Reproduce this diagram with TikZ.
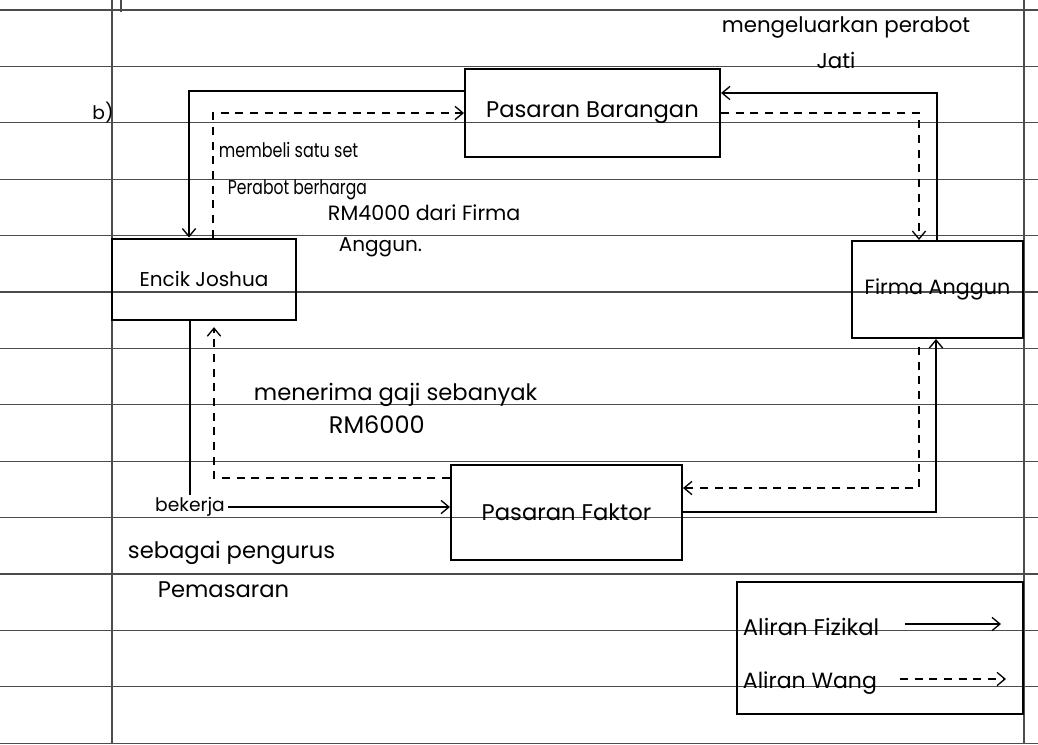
\documentclass[tikz,border=0pt]{standalone}
\usepackage{fontspec}
\setmainfont{Poppins}
\usetikzlibrary{arrows.meta,calc}
\newcommand\lblfs[1]{\fontsize{#1}{#1}\selectfont}
\begin{document}
\begin{tikzpicture}[x=0.75pt,y=-0.75pt,
  rule/.style={line width=0.9pt,black!70},
  box/.style={draw,line width=1.5pt,inner sep=0pt,align=center},
  tipV/.style={-{Straight Barb[length=6pt,width=10pt,line width=1pt]}},
  flow/.style={line width=1pt,tipV},
  money/.style={line width=1pt,dash pattern=on 6pt off 5pt,tipV},
  lbl/.style={inner sep=2pt}]
\useasboundingbox (0,0) rectangle (1038,744);
% ruled paper
\foreach \k in {0,...,13} \draw[rule] (0,{10+56.4*\k}) -- (1038,{10+56.4*\k});
\draw[rule] (112,0) -- (112,744);
\draw[rule] (1024,0) -- (1024,744);
\draw[rule] (121,0) -- (121,12);
% boxes
\node[box,minimum width=191.25pt,minimum height=66pt,font={\lblfs{17}}] (PB) at (592.5,113) {Pasaran Barangan};
\node[box,minimum width=138pt,minimum height=60.75pt,font={\lblfs{15}}] (EJ) at (204,279) {Encik Joshua};
\node[box,minimum width=128.25pt,minimum height=72.75pt,font={\lblfs{15.5}}] (FA) at (937.5,289.5) {Firma Anggun};
\node[box,minimum width=173.25pt,minimum height=71.25pt,font={\lblfs{17}}] (PF) at (566.5,512.5) {Pasaran Faktor};
\node[box,minimum width=214.5pt,minimum height=99pt] (LG) at (880,648) {};
% bend points
\coordinate (b1) at (189,91);
\coordinate (b2) at (213,113);
\coordinate (b3) at (937,93);
\coordinate (b4) at (919,113);
\coordinate (b5) at (936,512);
\coordinate (b6) at (919,488);
\coordinate (b7) at (214,478);
% connectors
\draw[flow] (PB.west |- b1) -- (b1) -- (b1 |- EJ.north);
\draw[money] (b2 |- EJ.north) -- (b2) -- (PB.west);
\draw[flow] (b3 |- FA.north) -- (b3) -- (PB.east |- b3);
\draw[money] (PB.east) -- (b4) -- (b4 |- FA.north);
\draw[flow] (PF.east |- b5) -- (b5) -- (b5 |- FA.south);
\draw[money] ([yshift=-6pt]b6 |- FA.south) -- (b6) -- (PF.east |- b6);
\draw[money,shorten >=5pt] (PF.west |- b7) -- (b7) -- (b7 |- EJ.south);
% work flow with label
\node[lbl,font={\lblfs{14}}] (bek) at (190,507) {bekerja};
\draw[line width=1pt] (bek.north |- EJ.south) -- (bek.north);
\draw[flow] (bek.east) -- (PF.west |- bek.east);
% labels
\node[lbl,font={\lblfs{14}}] (b) at (103,113) {b)};
\node[lbl,anchor=west,font={\lblfs{15}}] (t1) at (216,150) {\scalebox{0.8}[1]{membeli satu set}};
\node[lbl,anchor=west,font={\lblfs{15}}] (t2) at (225,190) {\scalebox{0.78}[1]{Perabot berharga}};
\node[lbl,anchor=west,font={\lblfs{15.5}}] (t3) at (325,213) {RM4000 dari Firma};
\node[lbl,anchor=west,font={\lblfs{15}}] (t4) at (336,247) {Anggun.};
\node[lbl,font={\lblfs{16}}] (t5) at (846,27) {mengeluarkan perabot};
\node[lbl,font={\lblfs{16}}] (t6) at (836,60) {Jati};
\node[lbl,anchor=west,font={\lblfs{17}}] (t7) at (251,395) {menerima gaji sebanyak};
\node[lbl,anchor=west,font={\lblfs{18}}] (t8) at (326,425) {RM6000};
\node[lbl,anchor=west,font={\lblfs{17}}] (t9) at (125,553) {sebagai pengurus};
\node[lbl,anchor=west,font={\lblfs{17}}] (t10) at (155,590) {Pemasaran};
% legend
\node[lbl,anchor=west,font={\lblfs{17}}] (lf) at (740,627) {Aliran Fizikal};
\node[lbl,anchor=west,font={\lblfs{16.5}}] (lw) at (740,683) {Aliran Wang};
\coordinate (lf1) at (905,624);
\coordinate (lf2) at (1001,624);
\coordinate (lw1) at (900,679);
\coordinate (lw2) at (1006,679);
\draw[flow] (lf1) -- (lf2);
\draw[money] (lw1) -- (lw2);
\end{tikzpicture}
\end{document}
